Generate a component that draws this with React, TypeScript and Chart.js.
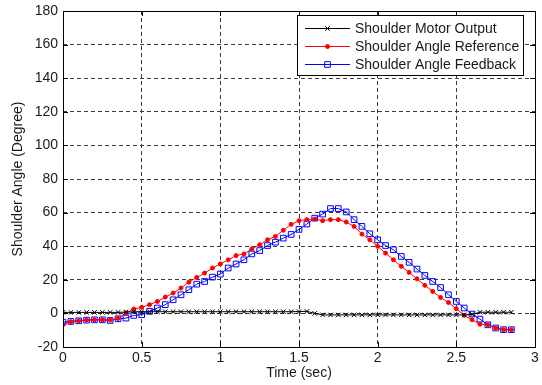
import React, { useEffect, useRef } from "react";
import { Chart, registerables } from "chart.js";

Chart.register(...registerables);

const TIME = [
  0, 0.05, 0.1, 0.15, 0.2, 0.25, 0.3, 0.35, 0.4, 0.45,
  0.5, 0.55, 0.6, 0.65, 0.7, 0.75, 0.8, 0.85, 0.9, 0.95,
  1.0, 1.05, 1.1, 1.15, 1.2, 1.25, 1.3, 1.35, 1.4, 1.45,
  1.5, 1.55, 1.6, 1.65, 1.7, 1.75, 1.8, 1.85, 1.9, 1.95,
  2.0, 2.05, 2.1, 2.15, 2.2, 2.25, 2.3, 2.35, 2.4, 2.45,
  2.5, 2.55, 2.6, 2.65, 2.7, 2.75, 2.8, 2.85,
];

const MOTOR_OUTPUT = [
  0.6, 0.6, 0.6, 0.6, 0.6, 0.6, 0.6, 0.6, 0.8, 1.0,
  1.0, 1.0, 1.0, 1.0, 1.0, 1.0, 1.0, 1.0, 1.0, 1.0,
  1.0, 1.0, 1.0, 1.0, 1.0, 1.0, 1.0, 1.0, 1.0, 1.0,
  1.1, 1.2, 0.0, -0.9, -0.9, -0.9, -0.9, -0.9, -0.9, -0.9,
  -0.9, -0.9, -0.9, -0.9, -0.9, -0.9, -0.9, -0.9, -0.9, -0.9,
  -0.9, -0.9, -0.6, 0.7, 0.7, 0.7, 0.7, 0.7,
];

const ANGLE_REFERENCE = [
  -6.7, -4.9, -4.4, -4.0, -3.8, -3.8, -4.0, -3.0, 0.3, 2.6,
  3.6, 5.2, 7.1, 9.7, 12.1, 15.1, 18.6, 21.4, 24.0, 27.0,
  29.4, 31.9, 34.4, 35.4, 38.4, 40.9, 43.8, 45.8, 49.5, 53.0,
  55.2, 55.8, 56.2, 55.2, 55.8, 55.8, 54.4, 51.8, 47.2, 43.8,
  39.9, 35.9, 31.9, 28.0, 24.4, 20.6, 16.7, 13.1, 9.5, 6.5,
  2.8, -1.2, -3.8, -6.4, -6.8, -8.7, -9.7, -9.7,
];

const ANGLE_FEEDBACK = [
  -5.2, -4.8, -4.4, -4.0, -3.8, -3.8, -4.2, -3.2, -2.8, -1.2,
  -0.8, 1.2, 3.2, 5.2, 8.1, 11.1, 14.1, 17.4, 19.0, 21.6,
  23.4, 27.0, 29.4, 31.9, 35.4, 37.4, 40.4, 42.4, 44.8, 47.0,
  50.0, 53.2, 56.7, 59.1, 62.4, 62.4, 60.4, 55.8, 51.8, 47.4,
  43.8, 40.4, 37.9, 33.9, 30.4, 26.4, 22.6, 19.0, 15.4, 11.1,
  7.1, 3.2, -0.4, -3.4, -6.8, -8.7, -9.7, -9.7,
];

const SERIES_LABELS = [
  "Shoulder Motor Output",
  "Shoulder Angle Reference",
  "Shoulder Angle Feedback",
];

const X_TICKS = [0, 0.5, 1, 1.5, 2, 2.5, 3];
const Y_TICKS = [-20, 0, 20, 40, 60, 80, 100, 120, 140, 160, 180];
const X_TITLE = "Time (sec)";
const Y_TITLE = "Shoulder Angle (Degree)";

const FONT = "'Liberation Sans', Arial, sans-serif";
const TEXT_COLOR = "#1a1a1a";

const toPoints = (ys: number[]) => TIME.map((t, i) => ({ x: t, y: ys[i] }));

function drawMarker(ctx: CanvasRenderingContext2D, style: string, x: number, y: number, r: number, color: string, fill: string) {
  ctx.save();
  ctx.strokeStyle = color;
  ctx.fillStyle = fill;
  ctx.lineWidth = 1;
  ctx.beginPath();
  if (style === "crossRot") {
    const d = r * Math.SQRT1_2;
    ctx.moveTo(x - d, y - d);
    ctx.lineTo(x + d, y + d);
    ctx.moveTo(x - d, y + d);
    ctx.lineTo(x + d, y - d);
    ctx.stroke();
  } else if (style === "circle") {
    ctx.arc(x, y, r, 0, Math.PI * 2);
    ctx.fill();
    ctx.stroke();
  } else {
    const s = r * Math.SQRT1_2;
    ctx.rect(x - s, y - s, 2 * s, 2 * s);
    ctx.stroke();
  }
  ctx.restore();
}

const framePlugin = {
  id: "frame",
  afterDatasetsDraw(chart: any) {
    const { ctx, chartArea } = chart;
    const { left, right, top, bottom } = chartArea;
    const xs = chart.scales.x;
    const ys = chart.scales.y;
    ctx.save();
    ctx.strokeStyle = "#000";
    ctx.lineWidth = 1;
    ctx.setLineDash([]);
    ctx.beginPath();
    const tl = 5;
    X_TICKS.forEach((v) => {
      const px = Math.round(xs.getPixelForValue(v)) + 0.5;
      ctx.moveTo(px, bottom);
      ctx.lineTo(px, bottom - tl);
      ctx.moveTo(px, top);
      ctx.lineTo(px, top + tl);
    });
    Y_TICKS.forEach((v) => {
      const py = Math.round(ys.getPixelForValue(v)) + 0.5;
      ctx.moveTo(left, py);
      ctx.lineTo(left + tl, py);
      ctx.moveTo(right, py);
      ctx.lineTo(right - tl, py);
    });
    ctx.stroke();
    ctx.strokeRect(Math.round(left) + 0.5, Math.round(top) + 0.5, Math.round(right - left), Math.round(bottom - top));
    ctx.restore();
  },
  afterDraw(chart: any) {
    const { ctx, chartArea } = chart;
    const boxRight = chartArea.right - 12;
    const boxTop = chartArea.top + 4;
    const boxW = 226;
    const rowH = 18;
    const boxH = 60;
    const boxLeft = boxRight - boxW;
    ctx.save();
    ctx.fillStyle = "#fff";
    ctx.fillRect(boxLeft, boxTop, boxW, boxH);
    ctx.strokeStyle = "#000";
    ctx.lineWidth = 1;
    ctx.setLineDash([]);
    ctx.strokeRect(Math.round(boxLeft) + 0.5, Math.round(boxTop) + 0.5, boxW, boxH);
    ctx.font = `14px ${FONT}`;
    ctx.textBaseline = "middle";
    ctx.textAlign = "left";
    chart.data.datasets.forEach((ds: any, i: number) => {
      const y = Math.round(boxTop + 13 + i * rowH) + 0.5;
      const x0 = boxLeft + 8;
      const x1 = boxLeft + 53;
      ctx.strokeStyle = ds.borderColor;
      ctx.beginPath();
      ctx.moveTo(x0, y);
      ctx.lineTo(x1, y);
      ctx.stroke();
      drawMarker(ctx, ds.pointStyle, (x0 + x1) / 2, y, ds.pointRadius, ds.pointBorderColor, ds.pointBackgroundColor);
      ctx.fillStyle = TEXT_COLOR;
      ctx.fillText(ds.label, boxLeft + 58, y + 0.5);
    });
    ctx.restore();
  },
};

export default function App() {
  const ref = useRef<HTMLCanvasElement>(null);

  useEffect(() => {
    document.body.style.margin = "0";
    const canvas = ref.current;
    if (!canvas) return;
    const chart = new Chart(canvas, {
      type: "line",
      data: {
        datasets: [
          {
            label: SERIES_LABELS[0],
            data: toPoints(MOTOR_OUTPUT),
            borderColor: "#000000",
            borderWidth: 1,
            pointStyle: "crossRot",
            pointRadius: 3.2,
            pointBorderColor: "#000000",
            pointBackgroundColor: "transparent",
            pointBorderWidth: 1,
            tension: 0,
          },
          {
            label: SERIES_LABELS[1],
            data: toPoints(ANGLE_REFERENCE),
            borderColor: "#ff0000",
            borderWidth: 1,
            pointStyle: "circle",
            pointRadius: 2,
            pointBorderColor: "#ff0000",
            pointBackgroundColor: "#ff0000",
            pointBorderWidth: 1,
            tension: 0,
          },
          {
            label: SERIES_LABELS[2],
            data: toPoints(ANGLE_FEEDBACK),
            borderColor: "#0000ff",
            borderWidth: 1,
            pointStyle: "rect",
            pointRadius: 4,
            pointBorderColor: "#0000ff",
            pointBackgroundColor: "transparent",
            pointBorderWidth: 1,
            tension: 0,
          },
        ],
      },
      options: {
        animation: false,
        responsive: false,
        maintainAspectRatio: false,
        events: [],
        layout: { padding: { top: 11, right: 7, left: 0, bottom: 0 } },
        plugins: {
          legend: { display: false },
          tooltip: { enabled: false },
        },
        scales: {
          x: {
            type: "linear",
            min: 0,
            max: 3,
            afterBuildTicks: (scale: any) => {
              scale.ticks = X_TICKS.map((v) => ({ value: v }));
            },
            afterFit: (scale: any) => {
              scale.height = 38;
              scale.paddingLeft = 0;
              scale.paddingRight = 0;
            },
            ticks: {
              padding: 3,
              color: TEXT_COLOR,
              font: { family: FONT, size: 14 },
              maxRotation: 0,
              autoSkip: false,
              callback: (v: any) => String(v),
            },
            grid: { color: "#3a3a3a", lineWidth: 1, drawTicks: false },
            border: { display: false, dash: [4, 3] },
            title: {
              display: true,
              text: X_TITLE,
              color: TEXT_COLOR,
              font: { family: FONT, size: 14 },
              padding: { top: 0, bottom: 3 },
            },
          },
          y: {
            type: "linear",
            min: -20,
            max: 180,
            afterBuildTicks: (scale: any) => {
              scale.ticks = Y_TICKS.map((v) => ({ value: v }));
            },
            afterFit: (scale: any) => {
              scale.width = 63;
              scale.paddingTop = 0;
              scale.paddingBottom = 0;
            },
            ticks: {
              padding: 5,
              color: TEXT_COLOR,
              font: { family: FONT, size: 14 },
              autoSkip: false,
              callback: (v: any) => String(v),
            },
            grid: { color: "#3a3a3a", lineWidth: 1, drawTicks: false },
            border: { display: false, dash: [4, 3] },
            title: {
              display: true,
              text: Y_TITLE,
              color: TEXT_COLOR,
              font: { family: FONT, size: 14 },
              padding: { top: 10, bottom: 0 },
            },
          },
        },
      },
      plugins: [framePlugin],
    });
    return () => chart.destroy();
  }, []);

  return (
    <div style={{ width: 542, height: 385 }}>
      <canvas ref={ref} width={542} height={385} style={{ display: "block", width: 542, height: 385 }} />
    </div>
  );
}
